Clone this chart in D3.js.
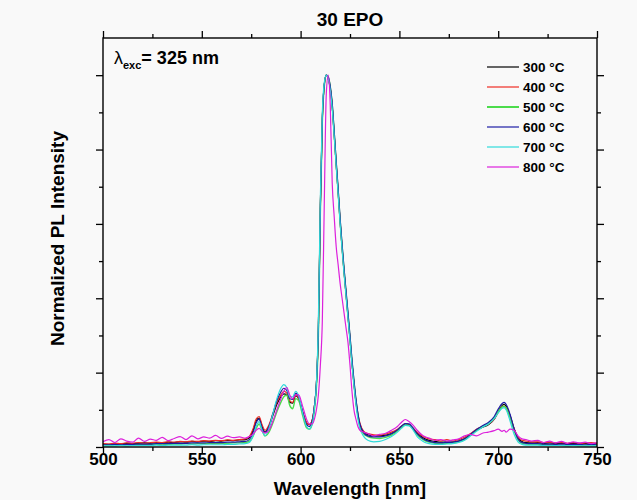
<!DOCTYPE html>
<html>
<head>
<meta charset="utf-8">
<script src="https://cdn.jsdelivr.net/npm/d3@7"></script>
<style>
  body { margin: 0; background: #f9f9f9; }
  text { font-family: "Liberation Sans", Arial, sans-serif; font-weight: bold; fill: #000; }
</style>
</head>
<body>
<div id="plothere"></div>
<script>
// wavelength grid [nm]
var wl = [500,503,506,509,512,515,518,521,524,527,530,533,536,539,542,545,548,551,554,557,560,563,566,569,572,
  574,576,577.5,579,580.5,582,584,586,588,590,591.5,593,594.5,596,597.5,599,601,603,604.5,606,607,608,
  609,610,611,612,613,614,615,616,617,618,619,620,621,622,623,624,625,626,627,628,629,630,
  632,634,637,640,643,646,649,651,653,655,657,659,662,665,668,671,674,677,680,683,686,689,692,695,698,700,702,703,704,706,708,710,712,714,717,
  720,723,726,729,732,735,738,741,744,747,750];

var t300 = [0.008,0.007,0.009,0.008,0.010,0.009,0.010,0.011,0.010,0.012,0.011,0.013,0.012,0.014,0.013,0.015,0.014,0.016,0.015,0.017,0.016,0.018,0.017,0.019,0.020,
  0.025,0.045,0.070,0.078,0.055,0.040,0.055,0.085,0.115,0.135,0.143,0.140,0.120,0.118,0.138,0.130,0.095,0.065,0.060,0.075,0.110,0.170,
  0.32,0.65,0.885,0.975,1.0,0.99,0.965,0.915,0.84,0.76,0.685,0.605,0.535,0.47,0.41,0.35,0.29,0.225,0.17,0.12,0.085,0.06,
  0.040,0.033,0.030,0.030,0.032,0.036,0.045,0.055,0.062,0.060,0.050,0.037,0.025,0.018,0.015,0.013,0.014,0.013,0.016,0.022,0.033,0.045,0.053,0.060,0.075,0.095,0.112,0.115,0.110,0.085,0.050,0.025,0.015,0.012,0.011,
  0.012,0.010,0.011,0.009,0.010,0.009,0.010,0.008,0.009,0.008,0.009];

var t400 = [0.009,0.008,0.010,0.009,0.011,0.010,0.012,0.010,0.012,0.013,0.012,0.014,0.013,0.015,0.014,0.016,0.015,0.017,0.016,0.018,0.017,0.019,0.018,0.020,0.022,
  0.028,0.050,0.075,0.082,0.060,0.045,0.060,0.090,0.120,0.140,0.150,0.145,0.125,0.120,0.140,0.130,0.095,0.066,0.060,0.075,0.110,0.170,
  0.32,0.65,0.88,0.975,1.0,0.99,0.965,0.915,0.84,0.76,0.685,0.605,0.535,0.47,0.41,0.35,0.29,0.225,0.17,0.125,0.09,0.065,
  0.042,0.036,0.033,0.032,0.035,0.040,0.048,0.056,0.062,0.058,0.050,0.040,0.028,0.022,0.020,0.016,0.020,0.016,0.020,0.026,0.036,0.048,0.055,0.062,0.075,0.093,0.108,0.110,0.105,0.082,0.050,0.027,0.018,0.016,0.014,
  0.014,0.012,0.013,0.011,0.012,0.010,0.012,0.010,0.011,0.012,0.010];

var t500 = [0.005,0.005,0.006,0.005,0.006,0.006,0.007,0.006,0.007,0.007,0.008,0.007,0.008,0.008,0.009,0.008,0.009,0.009,0.010,0.009,0.010,0.010,0.011,0.011,0.012,
  0.015,0.030,0.050,0.062,0.045,0.030,0.040,0.065,0.095,0.120,0.135,0.140,0.112,0.103,0.130,0.125,0.085,0.052,0.048,0.065,0.100,0.160,
  0.30,0.63,0.875,0.97,1.0,0.995,0.97,0.92,0.845,0.765,0.69,0.61,0.54,0.475,0.415,0.355,0.295,0.23,0.175,0.125,0.085,0.055,
  0.035,0.028,0.024,0.023,0.026,0.032,0.043,0.053,0.060,0.058,0.047,0.033,0.020,0.013,0.010,0.009,0.010,0.011,0.014,0.020,0.032,0.045,0.055,0.063,0.078,0.095,0.108,0.110,0.105,0.080,0.045,0.020,0.010,0.008,0.007,
  0.007,0.006,0.006,0.006,0.005,0.005,0.006,0.005,0.005,0.005,0.005];

var t600 = [0.006,0.006,0.007,0.006,0.007,0.007,0.008,0.008,0.008,0.009,0.009,0.009,0.010,0.010,0.010,0.011,0.011,0.011,0.012,0.012,0.012,0.013,0.013,0.014,0.015,
  0.020,0.040,0.065,0.075,0.052,0.038,0.055,0.090,0.125,0.148,0.158,0.152,0.130,0.128,0.145,0.135,0.095,0.060,0.055,0.072,0.110,0.170,
  0.31,0.64,0.88,0.975,1.0,0.995,0.97,0.925,0.85,0.77,0.695,0.615,0.545,0.48,0.42,0.36,0.30,0.235,0.18,0.13,0.09,0.062,
  0.038,0.030,0.027,0.027,0.030,0.036,0.046,0.056,0.063,0.062,0.050,0.036,0.022,0.015,0.012,0.011,0.012,0.013,0.016,0.022,0.034,0.047,0.057,0.066,0.082,0.102,0.117,0.120,0.115,0.088,0.050,0.022,0.012,0.010,0.009,
  0.009,0.008,0.008,0.007,0.008,0.007,0.007,0.007,0.006,0.007,0.006];

var t700 = [0.003,0.003,0.003,0.004,0.003,0.004,0.004,0.004,0.004,0.005,0.004,0.005,0.005,0.005,0.005,0.006,0.005,0.006,0.006,0.006,0.006,0.007,0.007,0.008,0.009,
  0.012,0.030,0.055,0.068,0.045,0.030,0.050,0.090,0.130,0.158,0.168,0.160,0.135,0.135,0.150,0.138,0.092,0.055,0.048,0.065,0.105,0.170,
  0.34,0.67,0.90,0.98,1.0,0.99,0.96,0.91,0.835,0.755,0.68,0.60,0.53,0.465,0.405,0.345,0.285,0.22,0.165,0.115,0.075,0.05,
  0.028,0.018,0.014,0.015,0.020,0.028,0.040,0.050,0.058,0.057,0.045,0.028,0.015,0.009,0.007,0.007,0.008,0.009,0.012,0.018,0.030,0.042,0.053,0.062,0.076,0.092,0.104,0.106,0.100,0.070,0.035,0.014,0.007,0.005,0.005,
  0.005,0.004,0.004,0.004,0.004,0.003,0.004,0.003,0.003,0.003,0.003];

var t800 = [0.014,0.020,0.012,0.022,0.016,0.013,0.024,0.015,0.021,0.018,0.026,0.017,0.023,0.028,0.020,0.030,0.022,0.027,0.024,0.031,0.023,0.029,0.025,0.027,0.024,
  0.028,0.035,0.045,0.050,0.042,0.038,0.045,0.070,0.100,0.130,0.150,0.160,0.140,0.130,0.140,0.140,0.110,0.075,0.062,0.062,0.075,0.100,
  0.14,0.22,0.34,0.66,0.95,1.0,0.92,0.71,0.62,0.54,0.49,0.44,0.40,0.36,0.32,0.28,0.22,0.15,0.10,0.075,0.055,0.045,
  0.040,0.036,0.030,0.034,0.037,0.045,0.055,0.066,0.074,0.068,0.058,0.045,0.030,0.024,0.018,0.020,0.016,0.019,0.022,0.030,0.034,0.030,0.037,0.040,0.044,0.048,0.042,0.045,0.040,0.048,0.045,0.030,0.022,0.020,0.016,
  0.018,0.012,0.016,0.011,0.015,0.010,0.014,0.011,0.013,0.009,0.012];

var names = ["300 °C", "400 °C", "500 °C", "600 °C", "700 °C", "800 °C"];
var colors = ["#000000", "#ee2a22", "#4cdc4c", "#1c1ca4", "#30dada", "#dc20dc"];
var series = [t300, t400, t500, t600, t700, t800];
var xTicks = [500, 550, 600, 650, 700, 750];

var margin = {top: 38, right: 40, bottom: 53, left: 103},
    width = 637 - margin.left - margin.right,
    height = 500 - margin.top - margin.bottom;

var svg = d3.select("#plothere")
  .append("svg")
    .attr("width", 637)
    .attr("height", 500);

var g = svg.append("g")
    .attr("transform", "translate(" + margin.left + "," + margin.top + ")");

var xs = d3.scaleLinear().domain([500, 750]).range([0, width]);
var ys = d3.scaleLinear().domain([0, 1.1]).range([height, 0]);

g.append("clipPath").attr("id", "clip")
  .append("rect").attr("width", width).attr("height", height);

// spectra
var line = d3.line()
    .x((d, i) => xs(wl[i]))
    .y(d => ys(d))
    .curve(d3.curveMonotoneX);

g.append("g").attr("clip-path", "url(#clip)")
  .selectAll("path")
  .data(series)
  .enter().append("path")
    .attr("d", line)
    .attr("fill", "none")
    .attr("stroke", (d, i) => colors[i])
    .attr("stroke-width", (d, i) => i == 2 ? 1.4 : 1.2);

// axes: major + minor, ticks outward, no y labels
function styleAxis(sel) {
  sel.select(".domain").remove();
  sel.selectAll("line").attr("stroke", "#000").attr("stroke-width", 1.3);
}
var minorX = d3.range(525, 750, 50), minorY = d3.range(0.1, 1.1, 0.2);
var majorY = [0, 0.2, 0.4, 0.6, 0.8, 1.0];

g.append("g").attr("transform", "translate(0," + height + ")")
  .call(d3.axisBottom(xs).tickValues(xTicks).tickSize(7).tickFormat(d3.format("d")))
  .call(styleAxis)
  .call(a => a.selectAll("text").attr("y", 17.5).attr("dy", null)
      .style("font-size", "17px").style("font-family", "'Liberation Sans', Arial").style("font-weight", "bold"));
g.append("g").attr("transform", "translate(0," + height + ")")
  .call(d3.axisBottom(xs).tickValues(minorX).tickSize(4).tickFormat(""))
  .call(styleAxis);
g.append("g")
  .call(d3.axisTop(xs).tickValues(xTicks).tickSize(7).tickFormat(""))
  .call(styleAxis);
g.append("g")
  .call(d3.axisTop(xs).tickValues(minorX).tickSize(4).tickFormat(""))
  .call(styleAxis);
g.append("g")
  .call(d3.axisLeft(ys).tickValues(majorY).tickSize(7).tickFormat(""))
  .call(styleAxis);
g.append("g")
  .call(d3.axisLeft(ys).tickValues(minorY).tickSize(4).tickFormat(""))
  .call(styleAxis);
g.append("g").attr("transform", "translate(" + width + ",0)")
  .call(d3.axisRight(ys).tickValues(majorY).tickSize(7).tickFormat(""))
  .call(styleAxis);
g.append("g").attr("transform", "translate(" + width + ",0)")
  .call(d3.axisRight(ys).tickValues(minorY).tickSize(4).tickFormat(""))
  .call(styleAxis);

g.append("rect")
    .attr("width", width).attr("height", height)
    .attr("fill", "none").attr("stroke", "#000").attr("stroke-width", 1.4);

// titles
svg.append("text")
    .attr("x", margin.left + width / 2).attr("y", 26)
    .attr("text-anchor", "middle").style("font-size", "19px")
    .text("30 EPO");
svg.append("text")
    .attr("x", margin.left + width / 2).attr("y", 495)
    .attr("text-anchor", "middle").style("font-size", "19px")
    .text("Wavelength [nm]");
svg.append("text")
    .attr("transform", "translate(64," + (margin.top + ys(0.55) - 4) + ") rotate(-90)")
    .attr("text-anchor", "middle").style("font-size", "19px")
    .text("Normalized PL Intensity");

// excitation label
var lab = svg.append("text").attr("x", 114).attr("y", 64).style("font-size", "18px");
lab.append("tspan").style("font-weight", "normal").text("λ");
lab.append("tspan").attr("dy", 5).style("font-size", "11px").text("exc");
lab.append("tspan").attr("dy", -5).text("= 325 nm");

// legend
var leg = svg.append("g").attr("transform", "translate(487,67)");
var rows = leg.selectAll("g").data(names).enter().append("g")
    .attr("transform", (d, i) => "translate(0," + i * 20 + ")");
rows.append("line")
    .attr("x1", 0).attr("x2", 32)
    .attr("stroke", (d, i) => colors[i])
    .attr("stroke-width", (d, i) => i == 2 ? 2 : 1.2);
rows.append("text")
    .attr("x", 36).attr("y", 5)
    .style("font-size", "13.5px")
    .text(d => d);
</script>
</body>
</html>
